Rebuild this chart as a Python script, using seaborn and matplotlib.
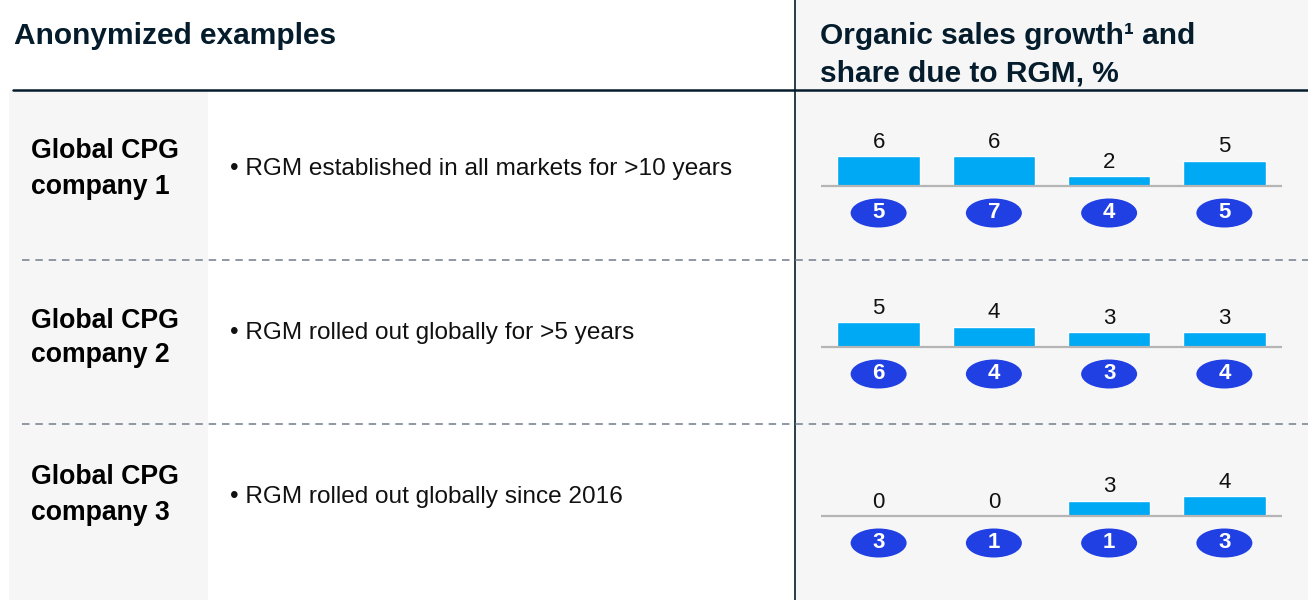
import matplotlib
matplotlib.use("Agg")
import matplotlib.pyplot as plt
from matplotlib.patches import Rectangle, Ellipse
import seaborn as sns
import pandas as pd

# ---- data ----
companies = ["Global CPG\ncompany 1", "Global CPG\ncompany 2", "Global CPG\ncompany 3"]
descriptions = [
    "\u2022 RGM established in all markets for >10 years",
    "\u2022 RGM rolled out globally for >5 years",
    "\u2022 RGM rolled out globally since 2016",
]
periods = ["P1", "P2", "P3", "P4"]
growth = [
    [6, 6, 2, 5],
    [5, 4, 3, 3],
    [0, 0, 3, 4],
]
rgm_share = [
    [5, 7, 4, 5],
    [6, 4, 3, 4],
    [3, 1, 1, 3],
]
header_left = "Anonymized examples"
header_right = "Organic sales growth\u00b9 and\nshare due to RGM, %"

# ---- styling ----
sns.set_theme(style="white")
plt.rcParams["font.family"] = ["Liberation Sans", "DejaVu Sans"]

W, H = 1308, 600
NAVY = "#051c2c"
GREY_BG = "#f6f6f6"
BAR = "#00a9f4"
PILL = "#2140e3"

fig = plt.figure(figsize=(W / 100, H / 100), dpi=100)
fig.patch.set_facecolor("white")
bg = fig.add_axes([0, 0, 1, 1])
bg.set_xlim(0, W)
bg.set_ylim(H, 0)
bg.set_axis_off()

# background panels
bg.add_patch(Rectangle((795, 0), W - 795, H, facecolor=GREY_BG, edgecolor="none", zorder=0))
bg.add_patch(Rectangle((9, 90), 199, H - 90, facecolor=GREY_BG, edgecolor="none", zorder=0))

# lines
bg.plot([795, 795], [0, H], color=NAVY, lw=1.2, zorder=3)
bg.plot([13, W], [89.5, 89.5], color=NAVY, lw=1.8, zorder=3)
for yy in [260, 424]:
    bg.plot([22, W], [yy, yy], color="#7d8894", lw=1.2, ls=(0, (4.5, 3.5)), zorder=3)

# headers
bg.text(14, 36, header_left, fontsize=21.5, fontweight="bold", color=NAVY, va="center", ha="left")
bg.text(820, 55, header_right, fontsize=21.5, fontweight="bold", color=NAVY, va="center", ha="left",
        linespacing=1.45)

row_label_y = [169, 338, 495]
row_desc_y = [169.5, 333.5, 496.5]
baselines = [186, 347, 516]
PX = 5.0  # pixels per unit of growth

for i in range(3):
    bg.text(31, row_label_y[i], companies[i], fontsize=19.2, fontweight="bold", color="#000000",
            va="center", ha="left", linespacing=1.45)
    bg.text(230, row_desc_y[i], descriptions[i], fontsize=17.6, color="#111111",
            va="center", ha="left")

    base = baselines[i]
    top_px = base - 62
    bot_px = base + 45
    left_px, right_px = 821, 1282
    ax = fig.add_axes([left_px / W, 1 - bot_px / H, (right_px - left_px) / W, (bot_px - top_px) / H])
    df = pd.DataFrame({"period": periods, "growth": growth[i]})
    sns.barplot(data=df, x="period", y="growth", order=periods, color=BAR, saturation=1,
                width=0.714, ax=ax, zorder=2)
    ax.set_xlim(-0.5, 3.5)
    ax.set_ylim(-45 / PX, 62 / PX)
    ax.axhline(0, color="#b5b5b5", lw=1.6, zorder=3)
    for j, (g, s) in enumerate(zip(growth[i], rgm_share[i])):
        ax.text(j, g + 14 / PX, str(g), ha="center", va="center", fontsize=16, color="#111111")
        ax.add_patch(Ellipse((j, -27 / PX), 56 / 115.25, 29 / PX, facecolor=PILL, edgecolor="none", zorder=4))
        ax.text(j, -26.5 / PX, str(s), ha="center", va="center", fontsize=16, fontweight="bold",
                color="white", zorder=5)
    ax.set_axis_off()

fig.savefig("out.png", dpi=100, facecolor="white")
